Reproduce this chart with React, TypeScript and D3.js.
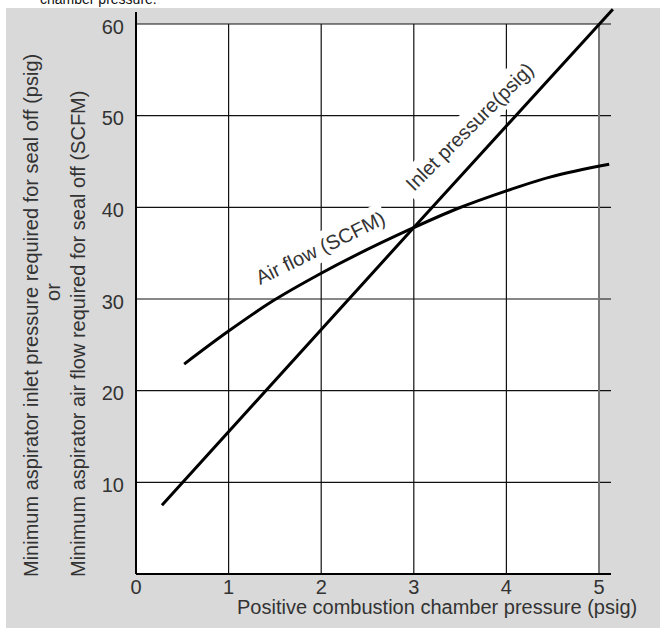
import React from "react";
import * as d3 from "d3";

const W = 660;
const H = 628;

const xTicks = [0, 1, 2, 3, 4, 5];
const yTicks = [10, 20, 30, 40, 50, 60];

// Inlet pressure (psig) vs positive combustion chamber pressure (psig)
const inletX = [0.28, 3.0, 5.15];
const inletY = [7.5, 37.8, 61.6];

// Air flow (SCFM)
const airX = [0.52, 1.0, 1.48, 1.98, 2.98, 3.48, 4.0, 4.47, 5.11];
const airY = [22.9, 26.5, 29.8, 32.7, 37.7, 39.9, 41.8, 43.3, 44.7];

const xTitle = "Positive combustion chamber pressure (psig)";
const yTitle1 = "Minimum aspirator inlet pressure required for seal off (psig)";
const yTitle2 = "Minimum aspirator air flow required for seal off (SCFM)";
const yTitleOr = "or";
const inletLabel = "Inlet pressure(psig)";
const airLabel = "Air flow (SCFM)";
const caption = "chamber pressure.";

const FONT = "'Liberation Sans', Arial, Helvetica, sans-serif";

export default function App() {
  const x = d3.scaleLinear().domain([0, 5]).range([136, 599]);
  const y = d3.scaleLinear().domain([0, 60]).range([574, 24]);
  const gridRight = 611;

  const line = d3
    .line<[number, number]>()
    .x((d) => x(d[0]))
    .y((d) => y(d[1]));
  const curve = d3
    .line<[number, number]>()
    .x((d) => x(d[0]))
    .y((d) => y(d[1]))
    .curve(d3.curveMonotoneX);

  const inletData = inletX.map((v, i) => [v, inletY[i]] as [number, number]);
  const airData = airX.map((v, i) => [v, airY[i]] as [number, number]);

  const fs = 20;
  const textColor = "#333";

  // label placements
  const airOrigin = { x: 260, y: 285, angle: -26, len: 138 };
  const inletOrigin = { x: 414, y: 192, angle: -45, len: 171 };

  return (
    <svg
      width={W}
      height={H}
      style={{ position: "absolute", left: 0, top: 0, fontFamily: FONT }}
    >
      <rect x={6} y={8} width={W - 6} height={H - 8} fill="#d9d9d9" />
      <text x={40} y={3.5} fontSize={14} fill="#111">
        {caption}
      </text>
      {/* plot area */}
      <rect
        x={x(0)}
        y={y(60)}
        width={x(5) - x(0)}
        height={y(0) - y(60)}
        fill="#ffffff"
      />
      {/* horizontal grid */}
      {yTicks.map((t) => (
        <line
          key={"h" + t}
          x1={x(0)}
          x2={gridRight}
          y1={y(t)}
          y2={y(t)}
          stroke="#111"
          strokeWidth={1.2}
        />
      ))}
      {/* vertical grid */}
      {xTicks.slice(1, 5).map((t) => (
        <line
          key={"v" + t}
          x1={x(t)}
          x2={x(t)}
          y1={y(60)}
          y2={y(0)}
          stroke="#111"
          strokeWidth={1.2}
        />
      ))}
      <line
        x1={x(5)}
        x2={x(5)}
        y1={y(60)}
        y2={y(0)}
        stroke="#777"
        strokeWidth={2}
      />
      {/* axes */}
      <line x1={x(0)} x2={x(0)} y1={12} y2={y(0)} stroke="#000" strokeWidth={2} />
      <line x1={x(0)} x2={gridRight} y1={y(0)} y2={y(0)} stroke="#000" strokeWidth={2} />

      {/* label backgrounds */}
      <g transform={`translate(${airOrigin.x},${airOrigin.y}) rotate(${airOrigin.angle})`}>
        <rect x={-5} y={-22} width={airOrigin.len + 10} height={29} fill="#fff" />
      </g>
      <g transform={`translate(${inletOrigin.x},${inletOrigin.y}) rotate(${inletOrigin.angle})`}>
        <rect x={-5} y={-22} width={inletOrigin.len + 10} height={29} fill="#fff" />
      </g>

      {/* series */}
      <path d={line(inletData) || ""} fill="none" stroke="#000" strokeWidth={3} />
      <path d={curve(airData) || ""} fill="none" stroke="#000" strokeWidth={3} />

      {/* in-chart labels */}
      <text
        transform={`translate(${airOrigin.x},${airOrigin.y}) rotate(${airOrigin.angle})`}
        fontSize={fs}
        fill={textColor}
      >
        {airLabel}
      </text>
      <text
        transform={`translate(${inletOrigin.x},${inletOrigin.y}) rotate(${inletOrigin.angle})`}
        fontSize={fs}
        fill={textColor}
      >
        {inletLabel}
      </text>

      {/* tick labels */}
      {yTicks.map((t) => (
        <text
          key={"yl" + t}
          x={124}
          y={y(t) + 9.5}
          fontSize={fs}
          textAnchor="end"
          fill={textColor}
        >
          {t}
        </text>
      ))}
      {xTicks.map((t) => (
        <text
          key={"xl" + t}
          x={x(t)}
          y={594}
          fontSize={fs}
          textAnchor="middle"
          fill={textColor}
        >
          {t}
        </text>
      ))}

      {/* axis titles */}
      <text x={237} y={614} fontSize={fs} fill={textColor}>
        {xTitle}
      </text>
      <text
        transform={`translate(37.5,577) rotate(-90)`}
        fontSize={fs}
        fill={textColor}
      >
        {yTitle1}
      </text>
      <text
        transform={`translate(60,292) rotate(-90)`}
        fontSize={fs}
        textAnchor="middle"
        fill={textColor}
      >
        {yTitleOr}
      </text>
      <text
        transform={`translate(85,577) rotate(-90)`}
        fontSize={fs}
        fill={textColor}
      >
        {yTitle2}
      </text>
    </svg>
  );
}
